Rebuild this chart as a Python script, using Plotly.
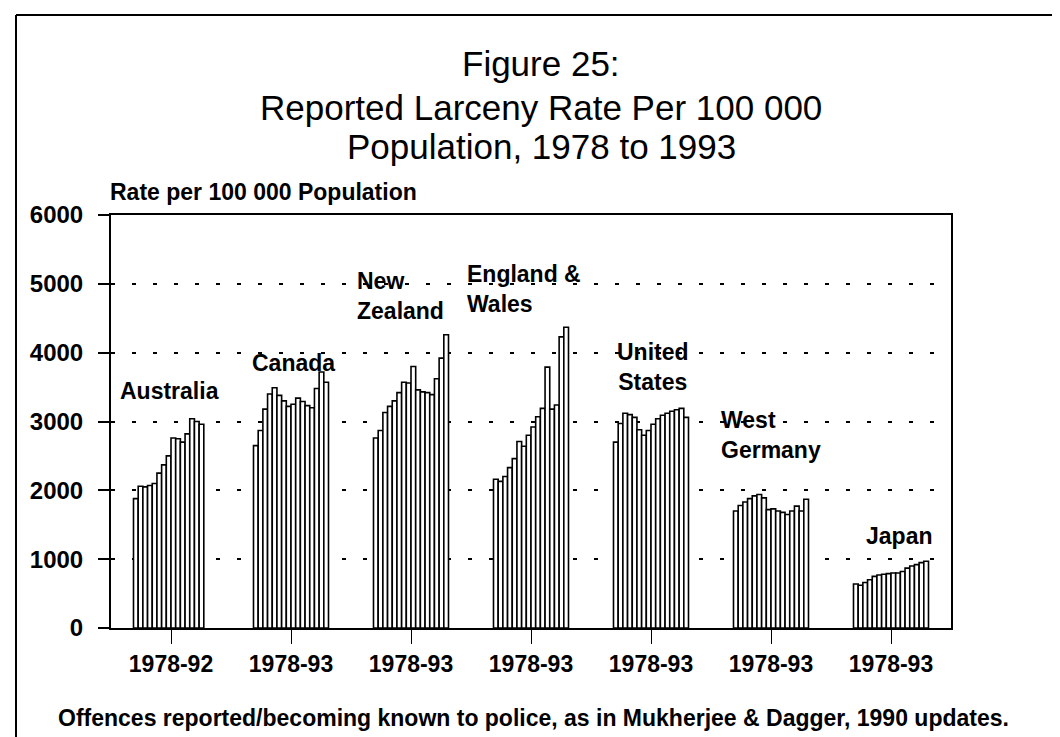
import plotly.graph_objects as go

countries = ["Australia", "Canada", "New Zealand", "England & Wales",
             "United States", "West Germany", "Japan"]
periods = ["1978-92", "1978-93", "1978-93", "1978-93", "1978-93", "1978-93", "1978-93"]
years = list(range(1978, 1994))

australia = [1880, 2060, 2050, 2070, 2100, 2250, 2370, 2500, 2760, 2750, 2700, 2820, 3040, 3000, 2960]
canada = [2650, 2870, 3180, 3400, 3490, 3380, 3300, 3220, 3250, 3340, 3290, 3230, 3200, 3480, 3720, 3570]
new_zealand = [2760, 2870, 3130, 3220, 3300, 3420, 3570, 3560, 3800, 3460, 3430, 3420, 3390, 3620, 3920, 4260]
england_wales = [2160, 2130, 2200, 2330, 2460, 2710, 2640, 2800, 2920, 3070, 3190, 3790, 3180, 3240, 4230, 4370]
united_states = [2700, 2970, 3120, 3100, 3060, 2880, 2800, 2870, 2960, 3040, 3090, 3120, 3150, 3170, 3190, 3060]
west_germany = [1700, 1780, 1830, 1880, 1920, 1940, 1890, 1720, 1730, 1700, 1680, 1650, 1700, 1770, 1700, 1870]
japan = [640, 620, 660, 700, 750, 770, 780, 790, 800, 800, 820, 870, 900, 920, 950, 970]

series = [australia, canada, new_zealand, england_wales, united_states, west_germany, japan]

FONT = "Liberation Sans, Arial, sans-serif"

fig = go.Figure()
for j, yr in enumerate(years):
    vals = [s[j] if j < len(s) else None for s in series]
    fig.add_trace(go.Bar(
        x=countries, y=vals, name=str(yr),
        marker=dict(color="white", line=dict(color="black", width=1.6)),
        showlegend=False,
    ))

W, H = 1060, 737
L, R, T, B = 103, 117, 207, 117
pw, ph = W - L - R, H - T - B

def px(xp):
    return (xp - L) / pw

def py(yp):
    return (H - B - yp) / ph

fig.update_layout(
    width=W, height=H,
    margin=dict(l=L, r=R, t=T, b=B),
    paper_bgcolor="white", plot_bgcolor="white",
    barmode="group", bargap=0.375, bargroupgap=0,
    font=dict(family=FONT, color="black"),
    showlegend=False,
)

fig.update_xaxes(
    type="category", tickmode="array", tickvals=countries, ticktext=periods,
    ticks="outside", ticklen=14, tickwidth=1.2, tickcolor="black",
    showline=True, linecolor="black", linewidth=2, mirror=True,
    showgrid=False, tickfont=dict(size=23, family=FONT, weight="bold"),
)
fig.update_yaxes(
    range=[0, 6000], tickmode="array", tickvals=[0, 1000, 2000, 3000, 4000, 5000, 6000],
    ticks="outside", ticklen=11, tickwidth=1.5, tickcolor="black",
    showline=True, linecolor="black", linewidth=2, mirror=True,
    showgrid=True, gridcolor="black", gridwidth=2.2, griddash="4px,17px",
    zeroline=False, ticklabelstandoff=10,
    tickfont=dict(size=24, family=FONT, weight="bold"),
)

ann = []
# Title lines
for text, yp in [("Figure 25:", 56), ("Reported Larceny Rate Per 100 000", 100),
                 ("Population, 1978 to 1993", 138)]:
    ann.append(dict(text=text, xref="paper", yref="paper", x=px(533), y=py(yp),
                    xanchor="center", yanchor="middle", showarrow=False,
                    font=dict(size=35, family=FONT)))
# Y axis title
ann.append(dict(text="Rate per 100 000 Population", xref="paper", yref="paper",
                x=px(100), y=py(184), xanchor="left", yanchor="middle", showarrow=False,
                font=dict(size=23, family=FONT, weight="bold")))
# Footnote
ann.append(dict(text="Offences reported/becoming known to police, as in Mukherjee & Dagger, 1990 updates.",
                xref="paper", yref="paper", x=px(525), y=py(710), xanchor="center",
                yanchor="middle", showarrow=False,
                font=dict(size=23, family=FONT, weight="bold")))

labels = [
    ("Australia", 3450, "center", -2, "center"),
    ("Canada", 3850, "center", 2, "center"),
    ("New<br>Zealand", 4830, "left", -56, "left"),
    ("England &<br>Wales", 4930, "left", -66, "left"),
    ("United<br>States", 3790, "center", 2, "center"),
    ("West<br>Germany", 2800, "left", -52, "left"),
    ("Japan", 1336, "center", 8, "center"),
]
for (text, yv, xa, xs, al), c in zip(labels, countries):
    ann.append(dict(text=text, xref="x", yref="y", x=c, y=yv, xanchor=xa, xshift=xs,
                    yanchor="middle", align=al, showarrow=False,
                    font=dict(size=23, family=FONT, weight="bold")))
fig.update_layout(annotations=ann)

# Outer page frame
fig.add_shape(type="line", xref="paper", yref="paper", x0=px(8), x1=px(8), y0=py(7), y1=py(733),
              line=dict(color="black", width=2))
fig.add_shape(type="line", xref="paper", yref="paper", x0=px(8), x1=px(1052), y0=py(7), y1=py(7),
              line=dict(color="black", width=2))
fig.add_shape(type="line", xref="paper", yref="paper", x0=px(8), x1=px(857), y0=py(733), y1=py(733),
              line=dict(color="black", width=2))

fig.write_html("out.html")
